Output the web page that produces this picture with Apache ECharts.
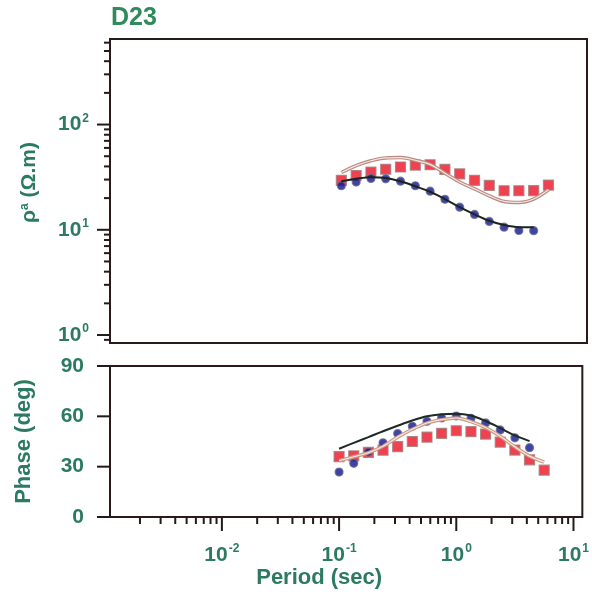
<!DOCTYPE html>
<html><head><meta charset="utf-8">
<script src="https://cdn.jsdelivr.net/npm/echarts@6.0.0/dist/echarts.min.js"></script>
<style>html,body{margin:0;padding:0;background:#fff}#c{width:592px;height:603px}</style>
</head><body><div id="c"></div>
<script>
// ---------- data ----------
const stationName = 'D23';
const periods = [0.1, 0.1334, 0.1778, 0.2371, 0.3162, 0.4217, 0.5623, 0.7499, 1.0, 1.334, 1.778, 2.371, 3.162, 4.217, 5.623];

const rhoXYObs   = [26.2, 28.4, 30.8, 30.5, 29.0, 26.2, 23.3, 19.5, 16.4, 14.0, 12.0, 10.6, 9.85, 9.8];
const rhoYXObs   = [29.5, 32.8, 35.3, 37.6, 39.5, 41.2, 41.5, 37.5, 34.0, 29.5, 26.4, 23.5, 23.5, 23.6, 26.6];
const rhoXYModel = [28.9, 30.5, 31.6, 31.1, 28.9, 25.9, 23.0, 19.6, 16.4, 14.0, 12.2, 11.1, 10.6, 10.6];
const rhoYXModel = [35.0, 40.7, 45.3, 48.2, 48.5, 45.8, 41.8, 34.5, 28.5, 24.5, 21.0, 18.6, 18.2, 19.6, 24.0];

const phaseXYObs   = [26.8, 32.0, 38.7, 44.2, 49.7, 54.1, 57.0, 59.0, 60.2, 58.8, 56.1, 51.9, 47.2, 41.3];
const phaseYXObs   = [36.0, 36.4, 38.5, 39.8, 42.0, 45.0, 47.6, 49.9, 51.4, 50.9, 49.4, 44.6, 39.9, 34.1, 27.9];
const phaseXYModel = [40.7, 44.2, 47.6, 51.1, 54.4, 57.5, 60.0, 61.2, 61.6, 60.5, 57.2, 53.0, 48.6, 45.2];
const phaseYXModel = [33.5, 35.9, 38.3, 42.2, 47.6, 52.3, 56.0, 58.0, 59.0, 56.8, 53.3, 48.1, 41.8, 36.3, 32.7];

// axis ranges and ticks
const periodMin = 0.00111, periodMax = 11.9;
const rhoMin = 0.84, rhoMax = 650;
const phaseMin = 0, phaseMax = 90;
const xMajorTicks = [0.01, 0.1, 1, 10];
const xMinorTicks = [0.002,0.003,0.004,0.005,0.006,0.007,0.008,0.009,
                     0.02,0.03,0.04,0.05,0.06,0.07,0.08,0.09,
                     0.2,0.3,0.4,0.5,0.6,0.7,0.8,0.9,
                     2,3,4,5,6,7,8,9];
const rhoMajorTicks = [1, 10, 100];
const rhoMinorTicks = [0.9, 2,3,4,5,6,7,8,9, 20,30,40,50,60,70,80,90, 200,300,400,500,600];
const phaseTicks = [0, 30, 60, 90];

// ---------- styling ----------
const textColor = '#2c7a62';
const tickColor = '#221a1a';
const FONT = '"Liberation Sans", Arial, sans-serif';

const pairs = (vals) => vals.map((v, i) => [periods[i], v]);

function powLabel(v) {
  const e = Math.log10(v);
  const r = Math.round(e);
  if (Math.abs(e - r) > 1e-6) return '';
  return '{b|10}{s|' + r + '}';
}
const powRich = {
  b: {fontSize: 21, fontWeight: 'bold', color: textColor, fontFamily: FONT, lineHeight: 24},
  s: {fontSize: 12, fontWeight: 'bold', color: textColor, fontFamily: FONT, verticalAlign: 'top', lineHeight: 24, padding: [0, 0, 10, 1]}
};

function tickSeries(values, xIdx, yIdx, dir, len, ref) {
  return {
    type: 'custom', xAxisIndex: xIdx, yAxisIndex: yIdx, silent: true, clip: false, z: 10,
    data: values.map(v => dir === 'x' ? [v, ref] : [ref, v]),
    renderItem: function (params, api) {
      const p = api.coord([api.value(0), api.value(1)]);
      const shape = dir === 'x'
        ? {x1: p[0], y1: p[1], x2: p[0], y2: p[1] + len}
        : {x1: p[0] - len, y1: p[1], x2: p[0], y2: p[1]};
      return {type: 'line', shape: shape, style: {stroke: tickColor, lineWidth: 2}};
    }
  };
}

function obsSeries(name, vals, xIdx, yIdx, kind) {
  const isRect = kind === 'rect';
  return {
    name: name, type: 'scatter', xAxisIndex: xIdx, yAxisIndex: yIdx, z: isRect ? 2 : 3,
    symbol: isRect ? 'rect' : 'circle', symbolSize: isRect ? 10 : 8,
    itemStyle: isRect
      ? {color: '#ee1226', borderColor: '#a07a7a', borderWidth: 1.2}
      : {color: '#0e1490', borderColor: '#6a6a90', borderWidth: 1.2},
    data: pairs(vals)
  };
}
function modelSeries(name, vals, xIdx, yIdx, color, width, z) {
  return {
    name: name, type: 'line', xAxisIndex: xIdx, yAxisIndex: yIdx, z: z,
    symbol: 'none', smooth: 0.35, lineStyle: {color: color, width: width},
    data: pairs(vals)
  };
}

const chart = echarts.init(document.getElementById('c'), null, {renderer: 'canvas'});
chart.setOption({
  animation: false,
  backgroundColor: '#fff',
  title: {
    text: stationName, left: 111, top: 6, padding: 0,
    textStyle: {fontSize: 25, fontWeight: 'bold', color: '#2f8a5c', fontFamily: FONT}
  },
  grid: [
    {left: 110, right: 5, top: 39, height: 304, show: true, borderColor: '#2a1a1a', borderWidth: 2, backgroundColor: 'transparent'},
    {left: 110, right: 5, top: 366, height: 151, show: true, borderColor: '#2a1a1a', borderWidth: 2, backgroundColor: 'transparent'}
  ],
  xAxis: [
    {gridIndex: 0, type: 'log', min: periodMin, max: periodMax,
     axisLine: {show: false}, axisTick: {show: false}, axisLabel: {show: false}, splitLine: {show: false}},
    {gridIndex: 1, type: 'log', min: periodMin, max: periodMax,
     axisLine: {show: false}, axisTick: {show: false}, splitLine: {show: false},
     axisLabel: {formatter: powLabel, rich: powRich, margin: 26, showMinLabel: false, showMaxLabel: true},
     name: 'Period (sec)', nameLocation: 'middle', nameGap: 50,
     nameTextStyle: {fontSize: 22, fontWeight: 'bold', color: textColor, fontFamily: FONT, padding: [0, 54, 0, 0]}}
  ],
  yAxis: [
    {gridIndex: 0, type: 'log', min: rhoMin, max: rhoMax,
     axisLine: {show: false}, axisTick: {show: false}, splitLine: {show: false},
     axisLabel: {formatter: powLabel, rich: powRich, margin: 21, showMinLabel: false, showMaxLabel: false},
     name: '{r|ρ}{a|a}{r| (Ω.m)}', nameLocation: 'middle', nameRotate: 90, nameGap: 70,
     nameTextStyle: {padding: [0, 0, 0, 17], rich: {
       r: {fontSize: 21, fontWeight: 'bold', color: textColor, fontFamily: FONT},
       a: {fontSize: 12, fontWeight: 'bold', color: textColor, fontFamily: FONT, verticalAlign: 'top'}
     }}},
    {gridIndex: 1, type: 'value', min: phaseMin, max: phaseMax, interval: 30,
     axisLine: {show: false}, axisTick: {show: false}, splitLine: {show: false},
     axisLabel: {fontSize: 21, fontWeight: 'bold', color: textColor, fontFamily: FONT, margin: 26},
     name: 'Phase (deg)', nameLocation: 'middle', nameRotate: 90, nameGap: 75,
     nameTextStyle: {fontSize: 22, fontWeight: 'bold', color: textColor, fontFamily: FONT}}
  ],
  series: [
    // ticks
    tickSeries(xMajorTicks, 1, 1, 'x', 14, phaseMin),
    tickSeries(xMinorTicks, 1, 1, 'x', 7, phaseMin),
    tickSeries(rhoMajorTicks, 0, 0, 'y', 13, periodMin),
    tickSeries(rhoMinorTicks, 0, 0, 'y', 6, periodMin),
    tickSeries(phaseTicks, 1, 1, 'y', 13, periodMin),
    // apparent resistivity
    obsSeries('rho yx', rhoYXObs, 0, 0, 'rect'),
    obsSeries('rho xy', rhoXYObs, 0, 0, 'circle'),
    modelSeries('rho yx model outer', rhoYXModel, 0, 0, '#b98a82', 3.5, 4),
    modelSeries('rho yx model inner', rhoYXModel, 0, 0, '#f6e6e0', 1.2, 5),
    modelSeries('rho xy model', rhoXYModel, 0, 0, '#1c2420', 2, 6),
    // phase
    obsSeries('phase yx', phaseYXObs, 1, 1, 'rect'),
    obsSeries('phase xy', phaseXYObs, 1, 1, 'circle'),
    modelSeries('phase yx model outer', phaseYXModel, 1, 1, '#c99a86', 3.5, 4),
    modelSeries('phase yx model inner', phaseYXModel, 1, 1, '#f6e6dc', 1.2, 5),
    modelSeries('phase xy model', phaseXYModel, 1, 1, '#1e2a24', 2, 6)
  ]
});
</script>
</body></html>
